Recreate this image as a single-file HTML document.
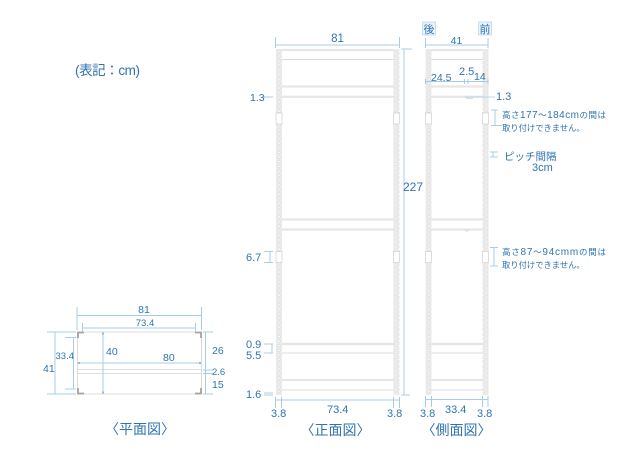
<!DOCTYPE html>
<html><head><meta charset="utf-8"><style>
html,body{margin:0;padding:0;background:#fff}
svg{display:block}
text{font-family:"Liberation Sans","Noto Sans CJK JP",sans-serif;fill:#2f74b0}
.d{stroke:#a6cce9;stroke-width:1;fill:none}
.s{stroke:#dcdcdc;stroke-width:1;fill:none}
.t{stroke:#e6e6e6;stroke-width:2.2;fill:none}
.b{fill:#fff;stroke:#cfcfcf;stroke-width:.7}
</style></head><body>
<svg width="640" height="465" viewBox="0 0 640 465" xmlns="http://www.w3.org/2000/svg">
<defs>
<pattern id="h" x="0" y="49" width="6" height="4.6" patternUnits="userSpaceOnUse">
<rect width="6" height="4.6" fill="#ebebeb"/><circle cx="3" cy="2.3" r="1.2" fill="#fff" stroke="#d6d6d6" stroke-width=".5"/>
</pattern>
</defs>

<text x="75" y="75" font-size="13.500" textLength="65" lengthAdjust="spacing">(表記：cm)</text>

<!-- FRONT -->
<rect x="276" y="49" width="6" height="346" fill="url(#h)"/>
<rect x="393.500" y="49" width="6" height="346" fill="url(#h)"/>
<g class="t"><path d="M282 50H393.500M282 86.500H393.500M282 96.800H393.500M282 219.500H393.500M282 229.500H393.500M282 344H393.500M282 380H393.500"/></g>
<g class="s"><path d="M282 59.500H393.500M282 353H393.500M282 390H393.500"/></g>
<rect class="b" x="276" y="113" width="6" height="11"/><rect class="b" x="393.500" y="113" width="6" height="11"/>
<rect class="b" x="276" y="251.500" width="6" height="11"/><rect class="b" x="393.500" y="251.500" width="6" height="11"/>

<g class="d">
<path d="M275.500 37V48M399.500 37V48M275.500 45H399.500"/>
<path d="M401 49H412M404 49V395M401 395H410"/>
<path d="M264 97H273M264 96V98"/>
<path d="M264 251.500H273M264 262.500H273M270 251.500V262.500"/>
<path d="M264 344H273M264 353H273M272 344V353"/>
<path d="M264 393H273M264 395H273"/>
<path d="M275.500 397V408M281.500 397V408M393.500 397V408M399.500 397V408M275.500 400H399.500"/>
</g>
<text x="337.500" y="42" font-size="11.500" text-anchor="middle">81</text>
<text x="403" y="191" font-size="12">227</text>
<text x="250" y="101" font-size="10.500">1.3</text>
<text x="246" y="261" font-size="11">6.7</text>
<text x="246" y="348" font-size="11">0.9</text>
<text x="246" y="359" font-size="11">5.5</text>
<text x="246" y="398" font-size="11">1.6</text>
<text x="271" y="417" font-size="11">3.8</text>
<text x="327" y="413" font-size="11">73.4</text>
<text x="387" y="417" font-size="11">3.8</text>
<text x="335.500" y="435" font-size="14" text-anchor="middle">〈正面図〉</text>

<!-- SIDE -->
<rect x="425.500" y="49" width="6" height="346" fill="url(#h)"/>
<rect x="482.500" y="49" width="6" height="346" fill="url(#h)"/>
<g class="t"><path d="M431.500 50H482.500M431.500 86.500H482.500M431.500 96.800H482.500M431.500 219.500H482.500M431.500 229.500H482.500M431.500 344H482.500M431.500 380H482.500"/></g>
<g class="s"><path d="M431.500 59.500H482.500M431.500 353H482.500M431.500 390H482.500"/></g>
<rect class="b" x="425.500" y="113" width="6" height="11"/><rect class="b" x="482.500" y="113" width="6" height="11"/>
<rect class="b" x="425.500" y="251.500" width="6" height="11"/><rect class="b" x="482.500" y="251.500" width="6" height="11"/>
<path d="M465 96.500l2 2h6M465 229.500l2 2l2-2" fill="none" stroke="#cfcfcf" stroke-width=".7"/>

<rect x="422.500" y="22" width="13" height="13" fill="#eaf3fa" stroke="#b5d5ec" stroke-width=".7"/>
<rect x="478.500" y="22" width="13" height="13" fill="#eaf3fa" stroke="#b5d5ec" stroke-width=".7"/>
<text x="429" y="33" font-size="11" text-anchor="middle">後</text>
<text x="485" y="33" font-size="11" text-anchor="middle">前</text>
<text x="456.500" y="44" font-size="10.500" text-anchor="middle">41</text>
<g class="d">
<path d="M425.500 38V48M488 38V48M425.500 45H488"/>
<path d="M425.500 79V84M488 79V84M425.500 81.500H488M464.500 79V84M468 79V84"/>
<path d="M466 97H495" stroke="#b8d6ee"/>
<path d="M491 110H498M491 125.500H502M495 110V125.500"/>
<path d="M490 152H498M490 157H498M493 152V157"/>
<path d="M490 247.500H498M490 266H498M494 247.500V266"/>
<path d="M425.500 396V407M431.500 396V407M482.500 396V407M488 396V407M425.500 399.500H488"/>
</g>
<text x="431" y="81" font-size="10.500">24.5</text>
<text x="459" y="75" font-size="11">2.5</text>
<text x="474" y="80" font-size="10.500">14</text>
<text x="496" y="100" font-size="11">1.3</text>
<text x="502" y="118" font-size="8.500" textLength="104" lengthAdjust="spacing">高さ<tspan font-size="10">177</tspan>～<tspan font-size="10">184cm</tspan>の間は</text>
<text x="502" y="131" font-size="8.300">取り付けできません。</text>
<text x="504" y="160" font-size="10.500">ピッチ間隔</text>
<text x="532" y="171" font-size="11">3cm</text>
<text x="502" y="255" font-size="8.500" textLength="104" lengthAdjust="spacing">高さ<tspan font-size="10">87</tspan>～<tspan font-size="10">94cmm</tspan>の間は</text>
<text x="502" y="268" font-size="8.300">取り付けできません。</text>
<text x="420" y="417" font-size="11">3.8</text>
<text x="445" y="413" font-size="11">33.4</text>
<text x="477" y="417" font-size="11">3.8</text>
<text x="456.500" y="435" font-size="14" text-anchor="middle">〈側面図〉</text>

<!-- PLAN -->
<rect x="77.500" y="332" width="124" height="62" fill="#fff" stroke="#dcdcdc" stroke-width="1"/>
<path d="M78 369.500H201M78 373.500H201" stroke="#dedede" stroke-width="1" fill="none"/>
<path d="M78 338V332.500H84M195 332.500H201V338M78 388V393.500H84M195 393.500H201V388" fill="none" stroke="#a8a39c" stroke-width="1.800"/>
<g class="d">
<path d="M77 307V330M201.500 307V330M77 315.500H201.500"/>
<path d="M82.500 323V332M195.500 323V332M82.500 328H195.500"/>
<path d="M47 332H76M47 394H76M55 332V394"/>
<path d="M65 337.500H76M65 389H76M73.500 337.500V389"/>
<path d="M78 363H201"/>
<path d="M103 333V393"/>
<path d="M203 332H213M203 370H213M203 373.500H213M203 394H213M205.500 332V394"/>
</g>
<path d="M103 332.500v2M103 391.500v2M78 363h2M199 363h2" stroke="#2f74b0" stroke-width="1" fill="none"/>
<text x="144" y="313" font-size="10.500" text-anchor="middle">81</text>
<text x="145" y="326" font-size="9.500" text-anchor="middle">73.4</text>
<text x="43" y="372" font-size="10.500">41</text>
<text x="55.500" y="359" font-size="9.500">33.4</text>
<text x="106" y="355" font-size="10.500">40</text>
<text x="163" y="361" font-size="10.500">80</text>
<text x="212" y="354" font-size="10.500">26</text>
<text x="212" y="375" font-size="9.500">2.6</text>
<text x="212" y="388" font-size="10.500">15</text>
<text x="140" y="434" font-size="14" text-anchor="middle">〈平面図〉</text>
</svg>
</body></html>
